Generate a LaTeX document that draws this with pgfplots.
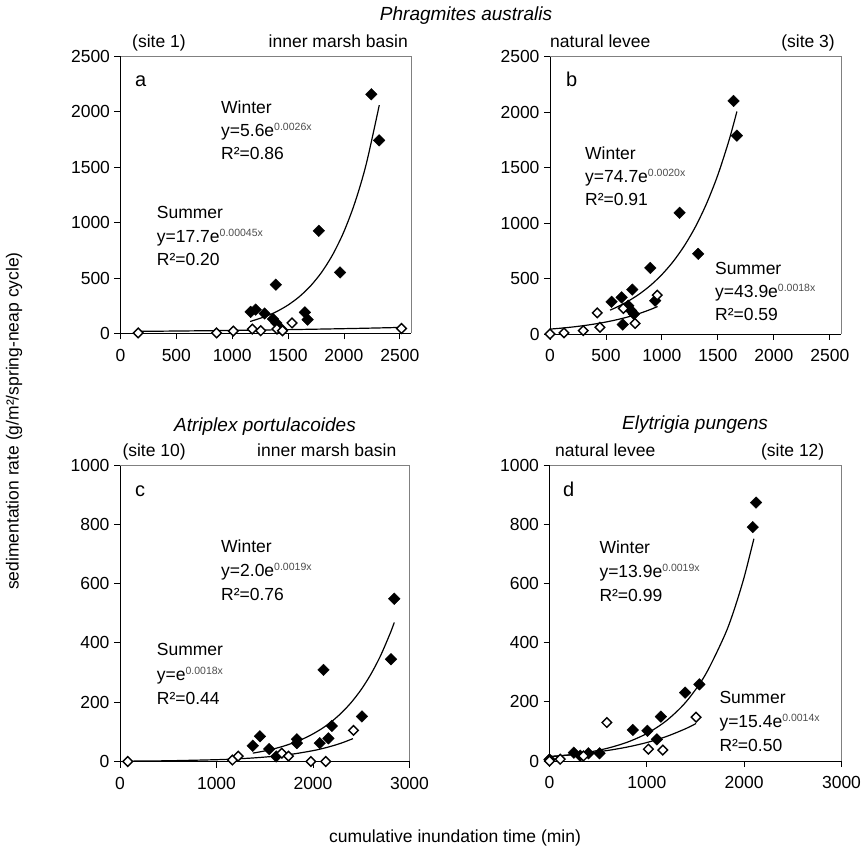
\documentclass[border=0pt]{standalone}
\usepackage{pgfplots}
\pgfplotsset{compat=1.18}
\usepackage{fontspec}
\setmainfont{Liberation Sans}
\newcommand{\fs}{\fontsize{17.5bp}{21bp}\selectfont}
\newcommand{\ex}[1]{\raisebox{6bp}{\fontsize{10.5bp}{12bp}\selectfont\color{black!70}#1}}
\pgfplotsset{
  panel/.style={
    scale only axis, anchor=south west, clip=false,
    axis x line*=bottom, axis y line*=left,
    axis line style={-, line width=0.9bp, black},
    tick align=outside, major tick length=6bp,
    tick style={line width=0.9bp, black},
    ticklabel style={font=\fs, /pgf/number format/assume math mode=true},
    /pgf/number format/1000 sep={},
    scaled ticks=false,
    enlargelimits=false,
    xticklabel style={yshift=-6bp},
    yticklabel style={xshift=-1bp},
  },
  winter/.style={only marks, mark=square*, mark size=4.1bp, mark options={rotate=45, fill=black, draw=black, line width=0.4bp}},
  summer/.style={only marks, mark=square*, mark size=3.4bp, mark options={rotate=45, fill=white, draw=black, line width=1.4bp}},
  fit/.style={no marks, black, line width=1.2bp, smooth},
}
\begin{document}
\begin{tikzpicture}
\useasboundingbox (0,0) rectangle (862bp,856bp);
% ---------- panel a ----------
\begin{axis}[panel, at={(120.5bp,522.5bp)}, width=290.5bp, height=277.5bp,
  xmin=0, xmax=2600, ymin=0, ymax=2500,
  xtick={0,500,1000,1500,2000,2500}, ytick={0,500,1000,1500,2000,2500}]
\draw[black!50, line width=0.9bp] (rel axis cs:0,1) -- (rel axis cs:1,1) -- (rel axis cs:1,0);
\addplot[fit] coordinates {(1160,107.9)(1300,154.1)(1400,198.9)(1500,256.7)(1600,331.3)(1700,427.5)(1800,551.6)(1900,711.8)(2000,918.5)(2100,1185)(2200,1529)(2316,2057)};
\addplot[fit] coordinates {(158,19.0)(600,23.2)(1000,27.8)(1400,33.2)(1800,39.8)(2200,47.6)(2516,54.9)};
\addplot[winter] coordinates {(1165,195)(1210,215)(1290,180)(1365,130)(1390,440)(1395,95)(1440,40)(1650,190)(1675,125)(1775,925)(1965,550)(2245,2155)(2315,1740)};
\addplot[summer] coordinates {(158,5)(860,5)(1010,22)(1180,40)(1255,25)(1400,40)(1450,25)(1535,95)(2515,45)};
\end{axis}
% ---------- panel b ----------
\begin{axis}[panel, at={(550bp,522bp)}, width=291bp, height=277.5bp,
  xmin=0, xmax=2600, ymin=0, ymax=2500,
  xtick={0,500,1000,1500,2000,2500}, ytick={0,500,1000,1500,2000,2500}]
\draw[black!50, line width=0.9bp] (rel axis cs:0,1) -- (rel axis cs:1,1) -- (rel axis cs:1,0);
\addplot[fit] coordinates {(536,214.8)(600,243.6)(700,296.6)(800,361.2)(900,439.9)(1000,535.7)(1100,652.3)(1200,794.3)(1300,967.2)(1400,1177.8)(1500,1434.2)(1600,1746.5)(1670,2004.9)};
\addplot[fit] coordinates {(0,43.9)(100,52.6)(200,62.9)(300,75.3)(400,90.2)(500,108.0)(600,129.3)(700,154.8)(800,185.3)(900,221.8)(961,247.6)};
\addplot[winter] coordinates {(550,290)(640,330)(700,255)(725,210)(750,180)(735,400)(650,85)(940,300)(896,595)(1158,1092)(1324,722)(1640,2100)(1670,1787)};
\addplot[summer] coordinates {(0,0)(125,10)(297,30)(446,60)(422,190)(655,230)(760,95)(958,350)};
\end{axis}
% ---------- panel c ----------
\begin{axis}[panel, at={(120bp,94.5bp)}, width=289.5bp, height=296.5bp,
  xmin=0, xmax=3000, ymin=0, ymax=1000,
  xtick={0,1000,2000,3000}, ytick={0,200,400,600,800,1000}]
\draw[black!50, line width=0.9bp] (rel axis cs:0,1) -- (rel axis cs:1,1) -- (rel axis cs:1,0);
\addplot[fit] coordinates {(1376,28.1)(1500,35.6)(1600,43.2)(1700,52.3)(1800,63.4)(1900,76.8)(2000,93.1)(2100,112.7)(2200,136.6)(2300,165.6)(2400,200.6)(2500,243.0)(2600,294.5)(2700,356.8)(2800,432.4)(2842,468.8)};
\addplot[fit] coordinates {(80,1.2)(500,2.5)(1000,6.1)(1200,8.7)(1400,12.4)(1600,17.8)(1800,25.5)(2000,36.6)(2100,43.8)(2200,52.5)(2300,62.8)(2414,77.1)};
\addplot[winter] coordinates {(1376,53)(1450,85)(1546,42)(1618,17)(1833,75)(1833,62)(2070,62)(2160,78)(2195,120)(2109,309)(2507,152)(2808,345)(2842,549)};
\addplot[summer] coordinates {(80,0)(1165,5)(1225,18)(1677,28)(1746,18)(1978,0)(2132,0)(2420,105)};
\end{axis}
% ---------- panel d ----------
\begin{axis}[panel, at={(549.5bp,95bp)}, width=292bp, height=296bp,
  xmin=0, xmax=3000, ymin=0, ymax=1000,
  xtick={0,1000,2000,3000}, ytick={0,200,400,600,800,1000}]
\draw[black!50, line width=0.9bp] (rel axis cs:0,1) -- (rel axis cs:1,1) -- (rel axis cs:1,0);
\addplot[fit] coordinates {(0,13.9)(200,20.3)(400,29.7)(600,43.5)(800,63.6)(1000,92.9)(1200,135.9)(1400,198.7)(1600,290.6)(1800,424.9)(1900,513.9)(2000,621.3)(2100,751)};
\addplot[fit] coordinates {(0,15.4)(200,20.4)(400,27.0)(600,35.7)(800,47.2)(1000,62.4)(1200,82.6)(1400,109.3)(1506,126.8)};
\addplot[winter] coordinates {(0,5)(250,28)(315,18)(400,26)(514,26)(856,105)(1006,102)(1103,73)(1144,150)(1393,231)(1540,259)(2088,790)(2122,873)};
\addplot[summer] coordinates {(0,0)(110,6)(349,17)(589,130)(1016,40)(1164,37)(1506,148)};
\end{axis}
% ---------- texts ----------
\begin{scope}[every node/.style={inner sep=0pt, font=\fs}]
\node[anchor=base, font={\fontsize{19bp}{22bp}\selectfont\itshape}] at (466bp,835.5bp) {Phragmites australis};
\node[anchor=base west] at (132bp,808bp) {(site 1)};
\node[anchor=base east] at (408bp,808bp) {inner marsh basin};
\node[anchor=base west] at (550bp,808bp) {natural levee};
\node[anchor=base east] at (835bp,808bp) {(site 3)};
\node[anchor=base west, font={\fontsize{20bp}{22bp}\selectfont}] at (135bp,769.3bp) {a};
\node[anchor=base west, font={\fontsize{20bp}{22bp}\selectfont}] at (566bp,769.3bp) {b};
\node[anchor=base west] at (221bp,742.5bp) {Winter};
\node[anchor=base west] at (221bp,719.5bp) {y=5.6e\ex{0.0026x}};
\node[anchor=base west] at (221bp,696.5bp) {R²=0.86};
\node[anchor=base west] at (156.7bp,637bp) {Summer};
\node[anchor=base west] at (156.7bp,613.5bp) {y=17.7e\ex{0.00045x}};
\node[anchor=base west] at (156.7bp,590bp) {R²=0.20};
\node[anchor=base west] at (585bp,696.7bp) {Winter};
\node[anchor=base west] at (585bp,673.4bp) {y=74.7e\ex{0.0020x}};
\node[anchor=base west] at (585bp,650bp) {R²=0.91};
\node[anchor=base west] at (715bp,581bp) {Summer};
\node[anchor=base west] at (715bp,558bp) {y=43.9e\ex{0.0018x}};
\node[anchor=base west] at (715bp,535bp) {R²=0.59};
\node[anchor=base, font={\fontsize{19bp}{22bp}\selectfont\itshape}] at (265bp,424bp) {Atriplex portulacoides};
\node[anchor=base, font={\fontsize{19bp}{22bp}\selectfont\itshape}] at (695bp,426bp) {Elytrigia pungens};
\node[anchor=base west] at (122.3bp,399bp) {(site 10)};
\node[anchor=base east] at (396.5bp,399bp) {inner marsh basin};
\node[anchor=base west] at (555bp,399bp) {natural levee};
\node[anchor=base east] at (824.5bp,399bp) {(site 12)};
\node[anchor=base west, font={\fontsize{20bp}{22bp}\selectfont}] at (135bp,359.3bp) {c};
\node[anchor=base west, font={\fontsize{20bp}{22bp}\selectfont}] at (563bp,359.3bp) {d};
\node[anchor=base west] at (221bp,303.7bp) {Winter};
\node[anchor=base west] at (221bp,279.3bp) {y=2.0e\ex{0.0019x}};
\node[anchor=base west] at (221bp,255bp) {R²=0.76};
\node[anchor=base west] at (156.7bp,200bp) {Summer};
\node[anchor=base west] at (156.7bp,175.5bp) {y=e\ex{0.0018x}};
\node[anchor=base west] at (156.7bp,151bp) {R²=0.44};
\node[anchor=base west] at (599.3bp,302bp) {Winter};
\node[anchor=base west] at (599.3bp,278.2bp) {y=13.9e\ex{0.0019x}};
\node[anchor=base west] at (599.3bp,254.3bp) {R²=0.99};
\node[anchor=base west] at (719.3bp,152.7bp) {Summer};
\node[anchor=base west] at (719.3bp,128.5bp) {y=15.4e\ex{0.0014x}};
\node[anchor=base west] at (719.3bp,104.3bp) {R²=0.50};
\node[rotate=90] at (14bp,435bp) {sedimentation rate (g/m²/spring-neap cycle)};
\node[anchor=base] at (455bp,13.5bp) {cumulative inundation time (min)};
\end{scope}
\end{tikzpicture}
\end{document}
